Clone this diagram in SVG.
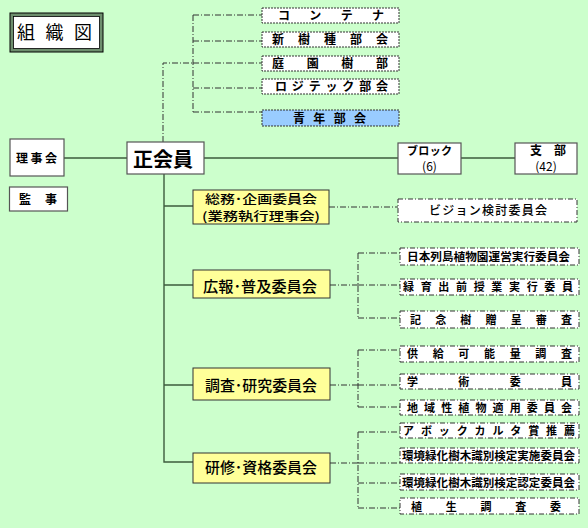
<svg xmlns="http://www.w3.org/2000/svg" width="588" height="528" viewBox="0 0 588 528">
<style>
text{font-family:"Noto Sans CJK JP","Noto Sans",sans-serif;fill:#000;}
.b{font-weight:700;}
.s{font-size:11px;font-weight:700;}
.t{font-size:12px;font-weight:700;}
.y{font-size:15px;font-weight:500;}
.box{fill:#fff;stroke:#555;stroke-width:1.2;}
.ybox{fill:#ffff99;stroke:#333;stroke-width:1;}
.dbox{fill:#fff;stroke:#333;stroke-width:1;stroke-dasharray:5 2 1 2;}
.tbox{fill:#fff;stroke:#333;stroke-width:1;stroke-dasharray:2 1;}
.solid{fill:none;stroke:#3d5c3d;stroke-width:1.4;}
.dd{fill:none;stroke:#333;stroke-width:1;stroke-dasharray:6 2 1 2;}
</style>
<rect x="0" y="0" width="588" height="528" fill="#ccffcc"/>

<g id="connectors">
  <path class="dd" d="M193 15V112M193 15H262M193 41H262M193 63H262M193 88H262M193 112H262"/>
  <path class="dd" d="M163 142V63H193"/>
  <path class="solid" d="M64 158H127M204 158H398M461 158H515"/>
  <path class="solid" d="M164 174V462H193M164 206H193M164 285H193M164 385H193"/>
  <path class="dd" d="M329 207H398"/>
  <path class="dd" d="M330 285H358M358 253V318M358 253H400M358 285H400M358 318H400"/>
  <path class="dd" d="M330 385H358M358 350V407M358 350H400M358 385H400M358 407H400"/>
  <path class="dd" d="M330 463H358M358 432V508M358 432H400M358 463H400M358 483H400M358 508H400"/>
</g>

<g id="title">
  <rect x="10" y="13" width="93" height="39" fill="#6e8f6e" stroke="#000" stroke-width="1"/>
  <rect x="13.5" y="16.5" width="86" height="32" fill="#fff" stroke="#000" stroke-width="0.8"/>
  <text x="17" y="39" font-size="18" textLength="75" lengthAdjust="spacing">組織図</text>
</g>

<g id="node-rijikai">
  <rect class="box" x="10" y="139" width="54" height="37"/>
  <text class="t" x="16" y="163" textLength="41" lengthAdjust="spacing">理事会</text>
</g>
<g id="node-kanji">
  <rect class="box" x="9.5" y="187" width="58" height="24"/>
  <text class="t" x="19" y="204" textLength="38" lengthAdjust="spacing">監事</text>
</g>
<g id="node-seikaiin">
  <rect class="box" x="127" y="142" width="77" height="32"/>
  <text class="b" x="133" y="167" font-size="20" textLength="60" lengthAdjust="spacing">正会員</text>
</g>
<g id="node-block">
  <rect class="box" x="398" y="143" width="63" height="31"/>
  <text class="s" x="407" y="155" textLength="45" lengthAdjust="spacing">ブロック</text>
  <text x="429.5" y="171" font-size="12" text-anchor="middle">(6)</text>
</g>
<g id="node-shibu">
  <rect class="box" x="515" y="143" width="62" height="31"/>
  <text class="t" x="530" y="155" textLength="36" lengthAdjust="spacing">支部</text>
  <text x="546" y="171" font-size="12" text-anchor="middle">(42)</text>
</g>

<g id="node-container">
  <rect class="tbox" x="262" y="8" width="137" height="15"/>
  <text class="t" x="278" y="20" textLength="106" lengthAdjust="spacing">コンテナ</text>
</g>
<g id="node-shinjushu">
  <rect class="tbox" x="262" y="32" width="137" height="15"/>
  <text class="t" x="272" y="44" textLength="116" lengthAdjust="spacing">新樹種部会</text>
</g>
<g id="node-teienju">
  <rect class="tbox" x="262" y="56" width="137" height="15"/>
  <text class="t" x="272" y="68" textLength="116" lengthAdjust="spacing">庭園樹部</text>
</g>
<g id="node-logitech">
  <rect class="tbox" x="262" y="79" width="137" height="15"/>
  <text class="t" x="275" y="91" textLength="113" lengthAdjust="spacing">ロジテック部会</text>
</g>
<g id="node-seinen">
  <rect class="tbox" x="262" y="110" width="137" height="16" style="fill:#99ccff"/>
  <text class="t" x="293" y="122.5" textLength="73" lengthAdjust="spacing">青年部会</text>
</g>

<g id="node-somu">
  <rect class="ybox" x="193" y="190" width="136" height="34"/>
  <text font-size="12" font-weight="500"><tspan x="205" y="203.5" textLength="112" lengthAdjust="spacingAndGlyphs">総務･企画委員会</tspan><tspan x="202" y="221" textLength="118" lengthAdjust="spacingAndGlyphs">(業務執行理事会)</tspan></text>
</g>
<g id="node-vision">
  <rect class="dbox" x="398" y="199" width="179" height="23"/>
  <text x="429" y="215" font-size="12" font-weight="500" textLength="118" lengthAdjust="spacing">ビジョン検討委員会</text>
</g>

<g id="node-koho">
  <rect class="ybox" x="193" y="270" width="137" height="28"/>
  <text class="y" x="203" y="292" textLength="114" lengthAdjust="spacingAndGlyphs">広報･普及委員会</text>
</g>
<g id="node-nihonretto">
  <rect class="dbox" x="400" y="248" width="179" height="17"/>
  <text class="s" x="407" y="260.5" textLength="163" lengthAdjust="spacingAndGlyphs">日本列島植物園運営実行委員会</text>
</g>
<g id="node-ryokuiku">
  <rect class="dbox" x="400" y="279" width="179" height="16"/>
  <text class="s" x="403" y="291" textLength="170" lengthAdjust="spacing">緑育出前授業実行委員</text>
</g>
<g id="node-kinenju">
  <rect class="dbox" x="400" y="311" width="179" height="17"/>
  <text class="s" x="410" y="323.5" textLength="162" lengthAdjust="spacing">記念樹贈呈審査</text>
</g>

<g id="node-chosa">
  <rect class="ybox" x="193" y="368" width="137" height="32"/>
  <text class="y" x="205" y="391" textLength="112" lengthAdjust="spacingAndGlyphs">調査･研究委員会</text>
</g>
<g id="node-kyokyu">
  <rect class="dbox" x="400" y="346" width="179" height="16"/>
  <text class="s" x="407" y="358" textLength="165" lengthAdjust="spacing">供給可能量調査</text>
</g>
<g id="node-gakujutsu">
  <rect class="dbox" x="400" y="374" width="179" height="15"/>
  <text class="s" x="407" y="386" textLength="165" lengthAdjust="spacing">学術委員</text>
</g>
<g id="node-chiikisei">
  <rect class="dbox" x="400" y="400" width="179" height="15"/>
  <text class="s" x="407" y="412" textLength="165" lengthAdjust="spacing">地域性植物適用委員会</text>
</g>

<g id="node-kenshu">
  <rect class="ybox" x="193" y="453" width="137" height="30"/>
  <text class="y" x="205" y="473" textLength="112" lengthAdjust="spacingAndGlyphs">研修･資格委員会</text>
</g>
<g id="node-abok">
  <rect class="dbox" x="400" y="423" width="179" height="15"/>
  <text class="s" x="403" y="435" textLength="172" lengthAdjust="spacing">アボックカルタ賞推薦</text>
</g>
<g id="node-jisshi">
  <rect class="dbox" x="400" y="448" width="179" height="15"/>
  <text class="s" x="402" y="460" textLength="173" lengthAdjust="spacingAndGlyphs">環境緑化樹木識別検定実施委員会</text>
</g>
<g id="node-nintei">
  <rect class="dbox" x="400" y="474" width="179" height="16"/>
  <text class="s" x="402" y="486.5" textLength="173" lengthAdjust="spacingAndGlyphs">環境緑化樹木識別検定認定委員会</text>
</g>
<g id="node-shokusei">
  <rect class="dbox" x="400" y="498" width="179" height="16"/>
  <text class="s" x="411" y="510.5" textLength="150" lengthAdjust="spacing">植生調査委</text>
</g>
</svg>
